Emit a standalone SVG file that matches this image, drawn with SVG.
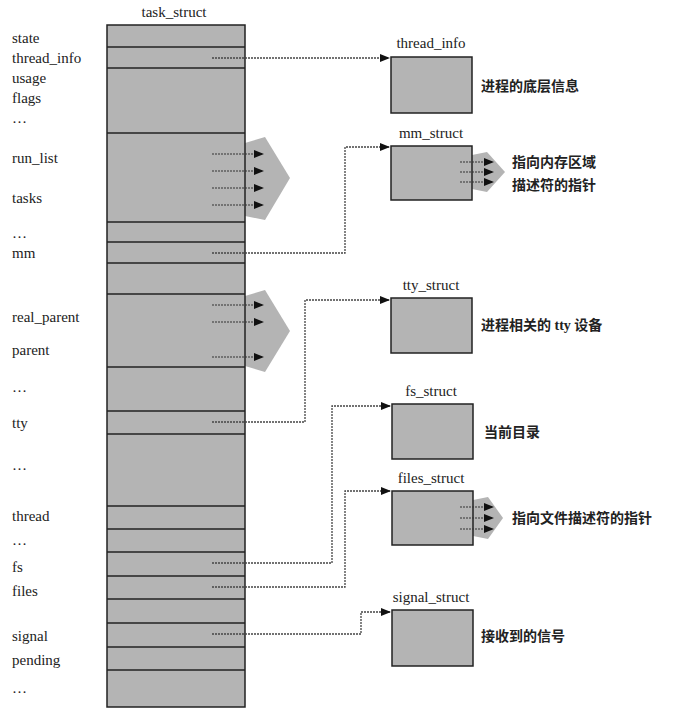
<svg xmlns="http://www.w3.org/2000/svg" width="699" height="711" viewBox="0 0 699 711">
<style>
.lbl{font-family:"Liberation Serif",serif;font-size:15px;fill:#222}
.cn{font-family:"Liberation Serif","Noto Sans CJK SC",sans-serif;font-size:14px;fill:#222;font-weight:bold}
.box{fill:#b4b4b4;stroke:#222;stroke-width:1.5}
.sep{stroke:#222;stroke-width:1.5}
.big{fill:#b4b4b4}
.dot{fill:none;stroke:#444;stroke-width:1.3;stroke-dasharray:2 1}
.sm{stroke:#333;stroke-width:1.2;stroke-dasharray:2 1;marker-end:url(#ah)}
</style>
<defs>
<marker id="ah" markerWidth="10" markerHeight="8" refX="9" refY="4" orient="auto" markerUnits="userSpaceOnUse"><path d="M0,0 L10,4 L0,8 z" fill="#111"/></marker>
</defs>
<rect width="699" height="711" fill="#fff"/>
<g id="task_struct">
<text class="lbl" x="174" y="17" text-anchor="middle">task_struct</text>
<polygon class="big" points="245,143 265,137 290,178 265,220 245,216"/>
<polygon class="big" points="245,296 265,290 290,331 265,372 245,366"/>
<rect class="box" x="107" y="25" width="138" height="682"/>
<g class="sep">
<line x1="107" y1="47" x2="245" y2="47"/><line x1="107" y1="68" x2="245" y2="68"/>
<line x1="107" y1="133" x2="245" y2="133"/><line x1="107" y1="222" x2="245" y2="222"/>
<line x1="107" y1="242" x2="245" y2="242"/><line x1="107" y1="263" x2="245" y2="263"/>
<line x1="107" y1="294" x2="245" y2="294"/><line x1="107" y1="367" x2="245" y2="367"/>
<line x1="107" y1="411" x2="245" y2="411"/><line x1="107" y1="434" x2="245" y2="434"/>
<line x1="107" y1="506" x2="245" y2="506"/><line x1="107" y1="529" x2="245" y2="529"/>
<line x1="107" y1="552" x2="245" y2="552"/><line x1="107" y1="576" x2="245" y2="576"/>
<line x1="107" y1="599" x2="245" y2="599"/><line x1="107" y1="623" x2="245" y2="623"/>
<line x1="107" y1="647" x2="245" y2="647"/><line x1="107" y1="670" x2="245" y2="670"/>
</g>
<line class="sm" x1="212" y1="154" x2="263" y2="154"/>
<line class="sm" x1="212" y1="171" x2="263" y2="171"/>
<line class="sm" x1="212" y1="188" x2="263" y2="188"/>
<line class="sm" x1="212" y1="205" x2="263" y2="205"/>
<line class="sm" x1="212" y1="305" x2="263" y2="305"/>
<line class="sm" x1="212" y1="322" x2="263" y2="322"/>
<line class="sm" x1="212" y1="357" x2="263" y2="357"/>
<text class="lbl" x="12" y="43">state</text>
<text class="lbl" x="12" y="63">thread_info</text>
<text class="lbl" x="12" y="83">usage</text>
<text class="lbl" x="12" y="103">flags</text>
<text class="lbl" x="12" y="123">…</text>
<text class="lbl" x="12" y="163">run_list</text>
<text class="lbl" x="12" y="203">tasks</text>
<text class="lbl" x="12" y="238">…</text>
<text class="lbl" x="12" y="258">mm</text>
<text class="lbl" x="12" y="322">real_parent</text>
<text class="lbl" x="12" y="355">parent</text>
<text class="lbl" x="12" y="392">…</text>
<text class="lbl" x="12" y="428">tty</text>
<text class="lbl" x="12" y="470">…</text>
<text class="lbl" x="12" y="521">thread</text>
<text class="lbl" x="12" y="545">…</text>
<text class="lbl" x="12" y="572">fs</text>
<text class="lbl" x="12" y="596">files</text>
<text class="lbl" x="12" y="641">signal</text>
<text class="lbl" x="12" y="665">pending</text>
<text class="lbl" x="12" y="693">…</text>
</g>
<g id="thread_info">
<text class="lbl" x="431" y="48" text-anchor="middle">thread_info</text>
<rect class="box" x="391" y="57" width="81" height="56"/>
<text class="cn" x="481" y="91">进程的底层信息</text>
</g>
<g id="mm_struct">
<text class="lbl" x="431" y="138" text-anchor="middle">mm_struct</text>
<polygon class="big" points="472,155 487,152 505,172 487,192 472,189"/>
<rect class="box" x="391" y="146" width="81" height="54"/>
<line class="sm" x1="460" y1="162" x2="493" y2="162"/>
<line class="sm" x1="460" y1="172" x2="493" y2="172"/>
<line class="sm" x1="460" y1="182" x2="493" y2="182"/>
<text class="cn" x="512" y="167">指向内存区域</text>
<text class="cn" x="512" y="190">描述符的指针</text>
</g>
<g id="tty_struct">
<text class="lbl" x="431" y="290" text-anchor="middle">tty_struct</text>
<rect class="box" x="391" y="298" width="81" height="55"/>
<text class="cn" x="481" y="330">进程相关的 tty 设备</text>
</g>
<g id="fs_struct">
<text class="lbl" x="431" y="396" text-anchor="middle">fs_struct</text>
<rect class="box" x="392" y="404" width="81" height="55"/>
<text class="cn" x="484" y="437">当前目录</text>
</g>
<g id="files_struct">
<text class="lbl" x="431" y="483" text-anchor="middle">files_struct</text>
<polygon class="big" points="473,500 488,497 503,518 488,539 473,536"/>
<rect class="box" x="392" y="491" width="81" height="54"/>
<line class="sm" x1="460" y1="507" x2="493" y2="507"/>
<line class="sm" x1="460" y1="518" x2="493" y2="518"/>
<line class="sm" x1="460" y1="529" x2="493" y2="529"/>
<text class="cn" x="512" y="523">指向文件描述符的指针</text>
</g>
<g id="signal_struct">
<text class="lbl" x="431" y="602" text-anchor="middle">signal_struct</text>
<rect class="box" x="392" y="610" width="81" height="56"/>
<text class="cn" x="481" y="641">接收到的信号</text>
</g>
<g id="connectors">
<path class="dot" d="M212,58 H389" marker-end="url(#ah)"/>
<path class="dot" d="M212,253 H345 V147 H389" marker-end="url(#ah)"/>
<path class="dot" d="M212,422 H305 V300 H389" marker-end="url(#ah)"/>
<path class="dot" d="M212,563 H332 V406 H390" marker-end="url(#ah)"/>
<path class="dot" d="M212,587 H345 V491 H390" marker-end="url(#ah)"/>
<path class="dot" d="M212,634 H361 V612 H390" marker-end="url(#ah)"/>
</g>
</svg>
